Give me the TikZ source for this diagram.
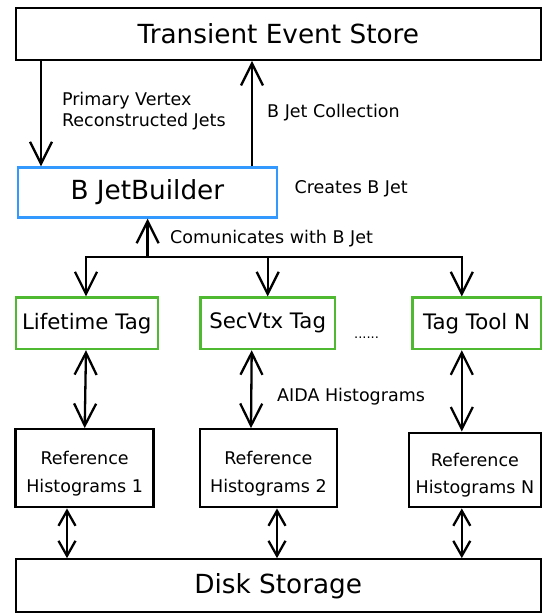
\documentclass[tikz,border=0pt]{standalone}
\usepackage{fontspec}
\setmainfont{DejaVu Sans}
\usetikzlibrary{arrows.meta}
\definecolor{bjblue}{RGB}{51,153,255}
\definecolor{taggreen}{RGB}{80,185,50}
\tikzset{
  box/.style={draw=black,line width=2.3pt,inner sep=0pt,align=center},
  big/.style={font=\fontsize{26.3}{30}\selectfont},
  tagf/.style={font=\fontsize{21.3}{25}\selectfont},
  small/.style={font=\fontsize{17.5}{21}\selectfont},
  reff/.style={font=\fontsize{17.5}{27.3}\selectfont},
  arr/.style={line width=2.3pt,-{Straight Barb[length=22pt,width=22pt]}},
  darr/.style={line width=2.3pt,{Straight Barb[length=22pt,width=22pt]}-{Straight Barb[length=22pt,width=22pt]}},
  sdarr/.style={line width=2.3pt,{Straight Barb[length=15pt,width=17pt]}-{Straight Barb[length=15pt,width=17pt]}},
  lbl/.style={small,anchor=west,inner sep=0pt,align=left},
}
\begin{document}
\begin{tikzpicture}[x=1pt,y=-1pt]
\useasboundingbox (0,0) rectangle (544,614);
% boxes
\node[box,big,minimum width=525pt,minimum height=51.5pt] (tes) at (278.3,34) {Transient Event Store};
\node[box,big,draw=bjblue,minimum width=259.5pt,minimum height=50pt] (bjb) at (147.4,192.5) {B JetBuilder};
\node[box,tagf,draw=taggreen,minimum width=142pt,minimum height=51.5pt] (lt) at (86.7,323.3) {Lifetime Tag};
\node[box,tagf,draw=taggreen,minimum width=134.7pt,minimum height=51.5pt] (sv) at (267.7,323.3) {SecVtx Tag};
\node[box,tagf,draw=taggreen,minimum width=128.2pt,minimum height=51.5pt] (tn) at (476.6,323.3) {Tag Tool N};
\node[box,reff,minimum width=138pt,minimum height=78pt] (r1) at (84.6,468.3) {\rule{0pt}{24pt}Reference\\Histograms 1};
\node[box,reff,minimum width=136.8pt,minimum height=78pt] (r2) at (268.4,468.3) {\rule{0pt}{24pt}Reference\\Histograms 2};
\node[box,reff,minimum width=131.7pt,minimum height=74.6pt] (rn) at (474.9,470) {\rule{0pt}{24pt}Reference\\Histograms N};
\node[box,big,minimum width=525pt,minimum height=53pt] (disk) at (278.2,585.8) {Disk Storage};
% coordinates
\coordinate (xa) at (41,0);
\coordinate (xb) at (252,0);
\coordinate (jn) at (147.6,257.3);
\coordinate (j1) at (86,257.3);
\coordinate (j2) at (267.7,257.3);
\coordinate (j3) at (461.8,257.3);
\coordinate (m1t) at (86,0);
\coordinate (m1b) at (84.7,0);
\coordinate (m2t) at (251.7,0);
\coordinate (m2b) at (251,0);
\coordinate (m3) at (461.8,0);
\coordinate (d1) at (67,0);
\coordinate (d2) at (277,0);
\coordinate (d3) at (461.8,0);
% connectors
\draw[arr] (tes.south -| xa) -- (bjb.north -| xa);
\draw[arr] (bjb.north -| xb) -- (tes.south -| xb);
\draw[arr] (jn) -- (bjb.south -| jn);
\draw[darr] (lt.north -| j1) |- (j3) -- (tn.north -| j3);
\draw[arr] (j2) -- (sv.north -| j2);
\draw[darr] (lt.south -| m1t) -- (r1.north -| m1b);
\draw[darr] (sv.south -| m2t) -- (r2.north -| m2b);
\draw[darr] (tn.south -| m3) -- (rn.north -| m3);
\draw[sdarr] (r1.south -| d1) -- (disk.north -| d1);
\draw[sdarr] (r2.south -| d2) -- (disk.north -| d2);
\draw[sdarr] (rn.south -| d3) -- (disk.north -| d3);
% labels
\node[lbl] (l1) at (61.8,111.5) {Primary Vertex\\Reconstructed Jets};
\node[lbl] (l2) at (267,113) {B Jet Collection};
\node[lbl] (l3) at (294.4,188.5) {Creates B Jet};
\node[lbl] (l4) at (170,238.5) {Comunicates with B Jet};
\node[lbl] (l5) at (277,397) {AIDA Histograms};
\node[anchor=west,inner sep=0pt,font=\fontsize{13}{15}\selectfont] (dots) at (354,338) {......};
\end{tikzpicture}
\end{document}
